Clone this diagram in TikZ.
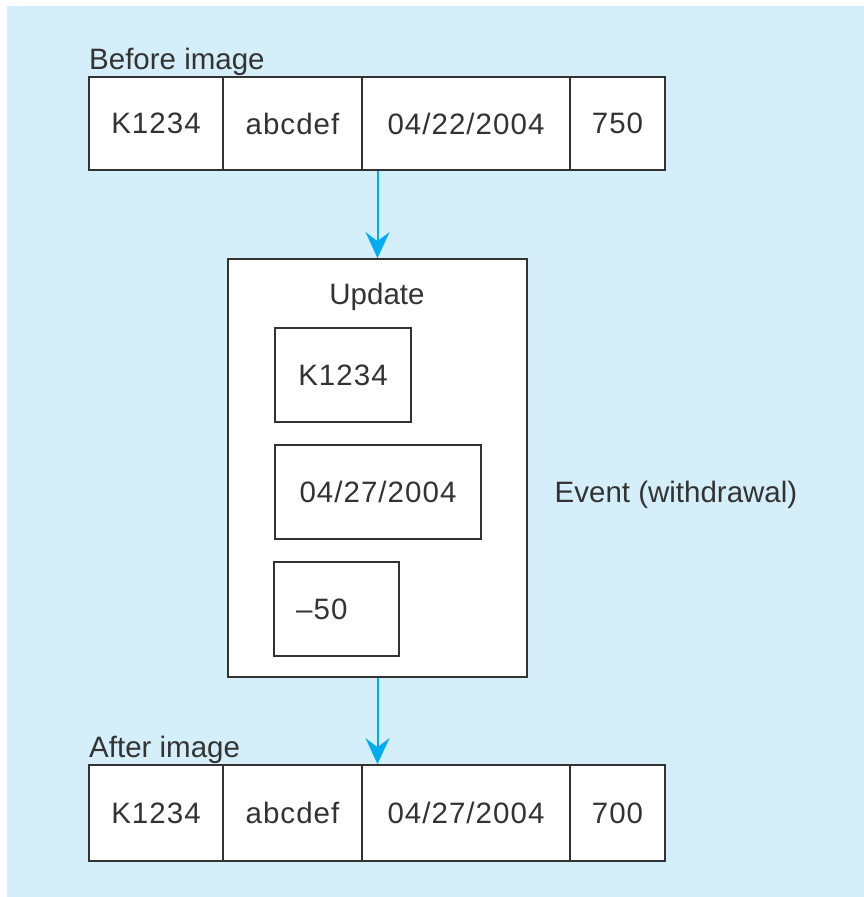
\documentclass[tikz,border=0pt]{standalone}
\usepackage{fontspec}
\setmainfont{Liberation Sans}
\usetikzlibrary{arrows.meta}
\definecolor{bgblue}{HTML}{D4EEFA}
\definecolor{linegray}{HTML}{333333}
\definecolor{arrblue}{HTML}{00AEEF}
\newcommand{\dfont}{\fontsize{29.5}{33}\selectfont}
\newcommand{\nfont}{\fontsize{29.5}{33}\selectfont\addfontfeature{LetterSpace=3.5}}
\tikzset{
  cell/.style={draw=linegray, fill=white, line width=1.8pt, inner sep=0pt, text=linegray, font=\nfont},
  lbl/.style={inner sep=0pt, text=linegray, font=\dfont},
  arr/.style={draw=arrblue, line width=2pt, -{Stealth[length=26pt,width=24pt,inset=9pt]}}
}
\begin{document}
\begin{tikzpicture}[x=1pt,y=-1pt]
\useasboundingbox (0,0) rectangle (864,897);
\fill[bgblue] (7,6) rectangle (864,897);
% before image
\node[lbl, anchor=base west] (beforelbl) at (89,69) {Before image};
\node[cell, minimum width=134pt, minimum height=93pt] (t1) at (156,123.5) {K1234};
\node[cell, minimum width=139pt, minimum height=93pt] (t2) at (292.5,123.5) {abcdef};
\node[cell, minimum width=208pt, minimum height=93pt] (t3) at (466,123.5) {04/22/2004};
\node[cell, minimum width=95pt, minimum height=93pt] (t4) at (617.5,123.5) {750};
% update
\node[cell, minimum width=299pt, minimum height=418pt] (upd) at (377.5,468) {};
\node[lbl] (updlbl) at (377,297) {Update};
\node[cell, minimum width=136pt, minimum height=94pt] (u1) at (343,375) {K1234};
\node[cell, minimum width=206pt, minimum height=94pt] (u2) at (378,492) {04/27/2004};
\node[cell, minimum width=125pt, minimum height=94pt] (u3) at (336.5,609) {};
\node[lbl, anchor=west, font=\nfont] (u3t) at (296,609) {--50};
\node[lbl] (event) at (676,495) {Event (withdrawal)};
% after image
\node[lbl, anchor=base west] (afterlbl) at (89,757) {After image};
\node[cell, minimum width=134pt, minimum height=96pt] (b1) at (156,813) {K1234};
\node[cell, minimum width=139pt, minimum height=96pt] (b2) at (292.5,813) {abcdef};
\node[cell, minimum width=208pt, minimum height=96pt] (b3) at (466,813) {04/27/2004};
\node[cell, minimum width=95pt, minimum height=96pt] (b4) at (617.5,813) {700};
% arrows
\draw[arr] (upd.north |- t3.south) -- (upd.north);
\draw[arr] (upd.south) -- (upd.south |- b3.north);
\end{tikzpicture}
\end{document}
